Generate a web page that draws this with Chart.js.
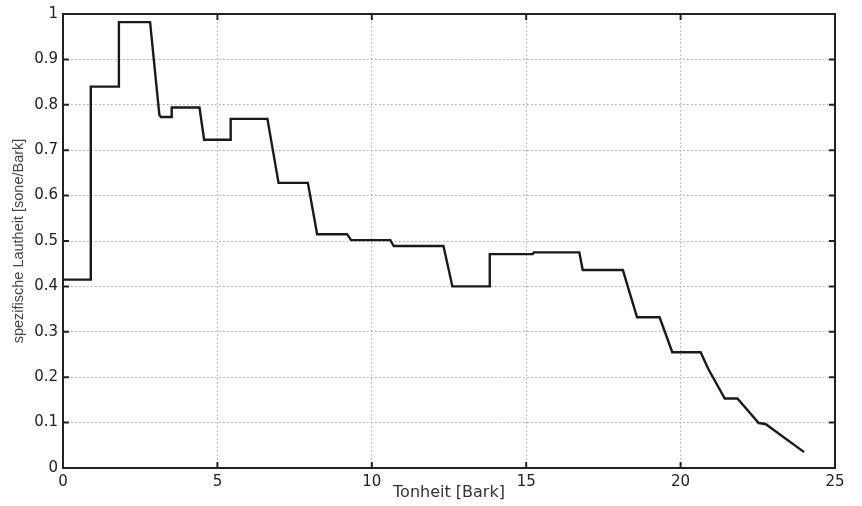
<!DOCTYPE html>
<html>
<head>
<meta charset="utf-8">
<script src="https://cdn.jsdelivr.net/npm/chart.js@4.4.1/dist/chart.umd.min.js"></script>
<style>
  html, body { margin: 0; padding: 0; background: #fff; }
  #chart { display: block; }
</style>
</head>
<body>
<canvas id="chart" width="862" height="506"></canvas>
<script>
// ==== Data ====
const barkX = [0, 0.9, 0.9, 1.81, 1.81, 2.82, 3.12, 3.17, 3.52, 3.52, 4.42, 4.57, 5.43, 5.43,
  6.62, 6.98, 7.93, 8.23, 9.2, 9.33, 10.6, 10.71, 12.32, 12.61, 13.82, 13.82, 15.21, 15.25,
  16.72, 16.83, 18.13, 18.59, 19.32, 19.73, 20.65, 20.89, 21.43, 21.84, 22.53, 22.75, 24.0];
const loudness = [0.415, 0.415, 0.84, 0.84, 0.982, 0.982, 0.778, 0.773, 0.773, 0.794, 0.794, 0.723, 0.723, 0.769,
  0.769, 0.628, 0.628, 0.515, 0.515, 0.502, 0.502, 0.489, 0.489, 0.4, 0.4, 0.471, 0.471, 0.475,
  0.475, 0.436, 0.436, 0.332, 0.332, 0.255, 0.255, 0.219, 0.153, 0.153, 0.099, 0.097, 0.035];
const xTicks = [0, 5, 10, 15, 20, 25];
const yTicks = [0, 0.1, 0.2, 0.3, 0.4, 0.5, 0.6, 0.7, 0.8, 0.9, 1];

const points = barkX.map((x, i) => ({ x, y: loudness[i] }));

// ==== frame + inward ticks (matlab look) ====
const frame = {
  id: 'frame',
  afterDatasetsDraw(chart) {
    const { ctx, chartArea: a, scales: { x, y } } = chart;
    ctx.save();
    ctx.strokeStyle = '#222';
    ctx.lineWidth = 2;
    ctx.strokeRect(a.left, a.top, a.right - a.left, a.bottom - a.top);
    ctx.beginPath();
    xTicks.forEach(v => {
      const px = x.getPixelForValue(v);
      ctx.moveTo(px, a.bottom); ctx.lineTo(px, a.bottom - 6);
      ctx.moveTo(px, a.top); ctx.lineTo(px, a.top + 6);
    });
    yTicks.forEach(v => {
      const py = y.getPixelForValue(v);
      ctx.moveTo(a.left, py); ctx.lineTo(a.left + 6, py);
      ctx.moveTo(a.right, py); ctx.lineTo(a.right - 6, py);
    });
    ctx.stroke();
    ctx.restore();
  }
};

const tickFont = { family: '"DejaVu Sans", sans-serif', size: 15 };

new Chart(document.getElementById('chart'), {
  type: 'scatter',
  data: {
    datasets: [{
      data: points,
      showLine: true,
      borderColor: '#1a1a1a',
      borderWidth: 2.4,
      pointRadius: 0,
      tension: 0,
      fill: false
    }]
  },
  options: {
    responsive: false,
    animation: false,
    layout: { padding: { top: 12, right: 27, left: 0, bottom: 0 } },
    plugins: { legend: { display: false }, tooltip: { enabled: false } },
    scales: {
      x: {
        type: 'linear', min: 0, max: 25,
        afterBuildTicks: s => { s.ticks = xTicks.map(v => ({ value: v })); },
        afterFit: s => { s.height = 38; },
        ticks: { color: '#222', font: tickFont, padding: 5, maxRotation: 0, callback: v => String(v) },
        grid: { color: '#a8a8a8', lineWidth: 1, drawTicks: false },
        border: { display: false, dash: [1.5, 2.5] },
        title: {
          display: true, text: 'Tonheit [Bark]', color: '#333',
          font: { family: '"DejaVu Sans", sans-serif', size: 16 },
          padding: { top: 0, bottom: 4 }
        }
      },
      y: {
        type: 'linear', min: 0, max: 1,
        afterBuildTicks: s => { s.ticks = yTicks.map(v => ({ value: v })); },
        afterFit: s => { s.width = 63; },
        ticks: { color: '#222', font: tickFont, padding: 5, callback: v => String(v) },
        grid: { color: '#a8a8a8', lineWidth: 1, drawTicks: false },
        border: { display: false, dash: [1.5, 2.5] },
        title: {
          display: true, text: 'spezifische Lautheit [sone/Bark]', color: '#444',
          font: { family: '"Liberation Sans", Arial, sans-serif', size: 14.5 },
          padding: { top: 10, bottom: 0 }
        }
      }
    }
  },
  plugins: [frame]
});
</script>
</body>
</html>
